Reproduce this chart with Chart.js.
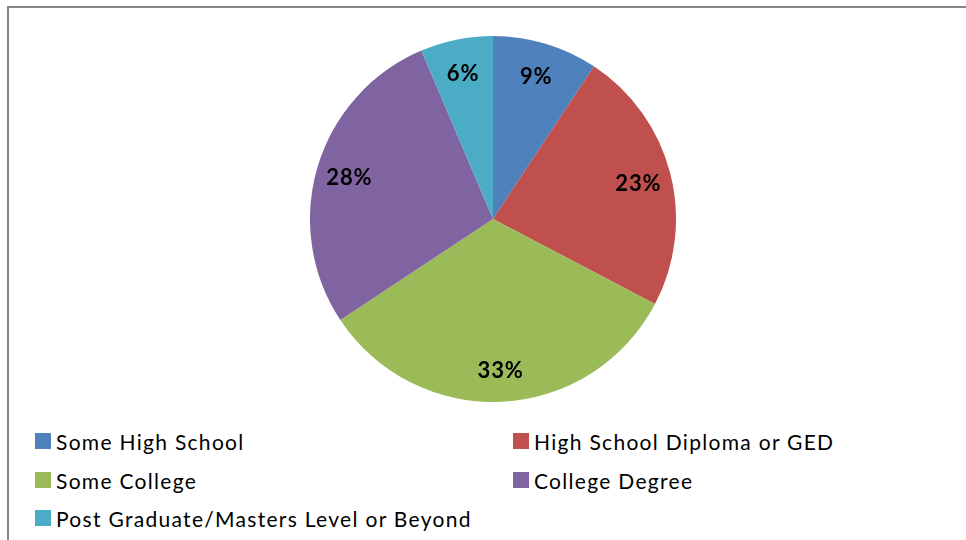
<!DOCTYPE html>
<html>
<head>
<meta charset="utf-8">
<script src="https://cdn.jsdelivr.net/npm/chart.js@4/dist/chart.umd.min.js"></script>
<style>
html, body { margin: 0; padding: 0; background: #fff; overflow: hidden; }
body { width: 966px; height: 540px; position: relative; font-family: Lato, "Open Sans", sans-serif; }
.frame { position: absolute; left: 7px; top: 6px; width: 1000px; height: 600px; border: 2px solid #868686; }
.pie-wrap { position: absolute; left: 310px; top: 36px; width: 366px; height: 366px; }
.legend { position: absolute; left: 0; top: 0; }
.legend-item { position: absolute; font-size: 21px; letter-spacing: 1.3px; color: #000; white-space: nowrap; line-height: 22px; }
.legend-item .box { position: absolute; left: 0; top: 0; width: 16px; height: 16px; }
.legend-item .txt { position: absolute; left: 21px; top: -2px; }
</style>
</head>
<body>
<div class="frame"></div>
<div class="pie-wrap"><canvas id="pie"></canvas></div>
<div class="legend" id="legend"></div>
<script>
// Data
const categories = ['Some High School', 'High School Diploma or GED', 'Some College', 'College Degree', 'Post Graduate/Masters Level or Beyond'];
const shares = [9.3, 23.4, 33.0, 27.9, 6.4];
const colors = ['#4F81BD', '#C0504D', '#9BBB59', '#8064A2', '#4BACC6'];

// legend slots (left column / right column)
const legendPos = [[35, 433], [513, 433], [35, 472], [513, 472], [35, 510]];

// Percent labels inside slices
const sliceLabels = {
  id: 'sliceLabels',
  afterDatasetsDraw(chart) {
    const ctx = chart.ctx;
    const total = shares.reduce((a, b) => a + b, 0);
    chart.getDatasetMeta(0).data.forEach((arc, i) => {
      const p = arc.getProps(['x', 'y', 'startAngle', 'endAngle', 'outerRadius'], true);
      const mid = (p.startAngle + p.endAngle) / 2;
      const r = p.outerRadius * 0.82;
      ctx.save();
      ctx.font = 'bold 22px Lato, "Open Sans", sans-serif';
      ctx.letterSpacing = '0.8px';
      ctx.fillStyle = '#000';
      ctx.textAlign = 'center';
      ctx.textBaseline = 'middle';
      ctx.fillText(Math.round(shares[i] / total * 100) + '%', p.x + Math.cos(mid) * r, p.y + Math.sin(mid) * r + 2);
      ctx.restore();
    });
  }
};

new Chart(document.getElementById('pie'), {
  type: 'pie',
  data: {
    labels: categories,
    datasets: [{
      data: shares,
      backgroundColor: colors,
      borderWidth: 0
    }]
  },
  options: {
    responsive: true,
    maintainAspectRatio: false,
    animation: false,
    layout: { padding: 0 },
    plugins: {
      legend: { display: false },
      tooltip: { enabled: false }
    }
  },
  plugins: [sliceLabels]
});

// HTML legend built from the same arrays
const legend = document.getElementById('legend');
categories.forEach((name, i) => {
  const item = document.createElement('div');
  item.className = 'legend-item';
  item.style.left = legendPos[i][0] + 'px';
  item.style.top = legendPos[i][1] + 'px';
  item.innerHTML = '<span class="box" style="background:' + colors[i] + '"></span><span class="txt"></span>';
  item.querySelector('.txt').textContent = name;
  legend.appendChild(item);
});
</script>
</body>
</html>
